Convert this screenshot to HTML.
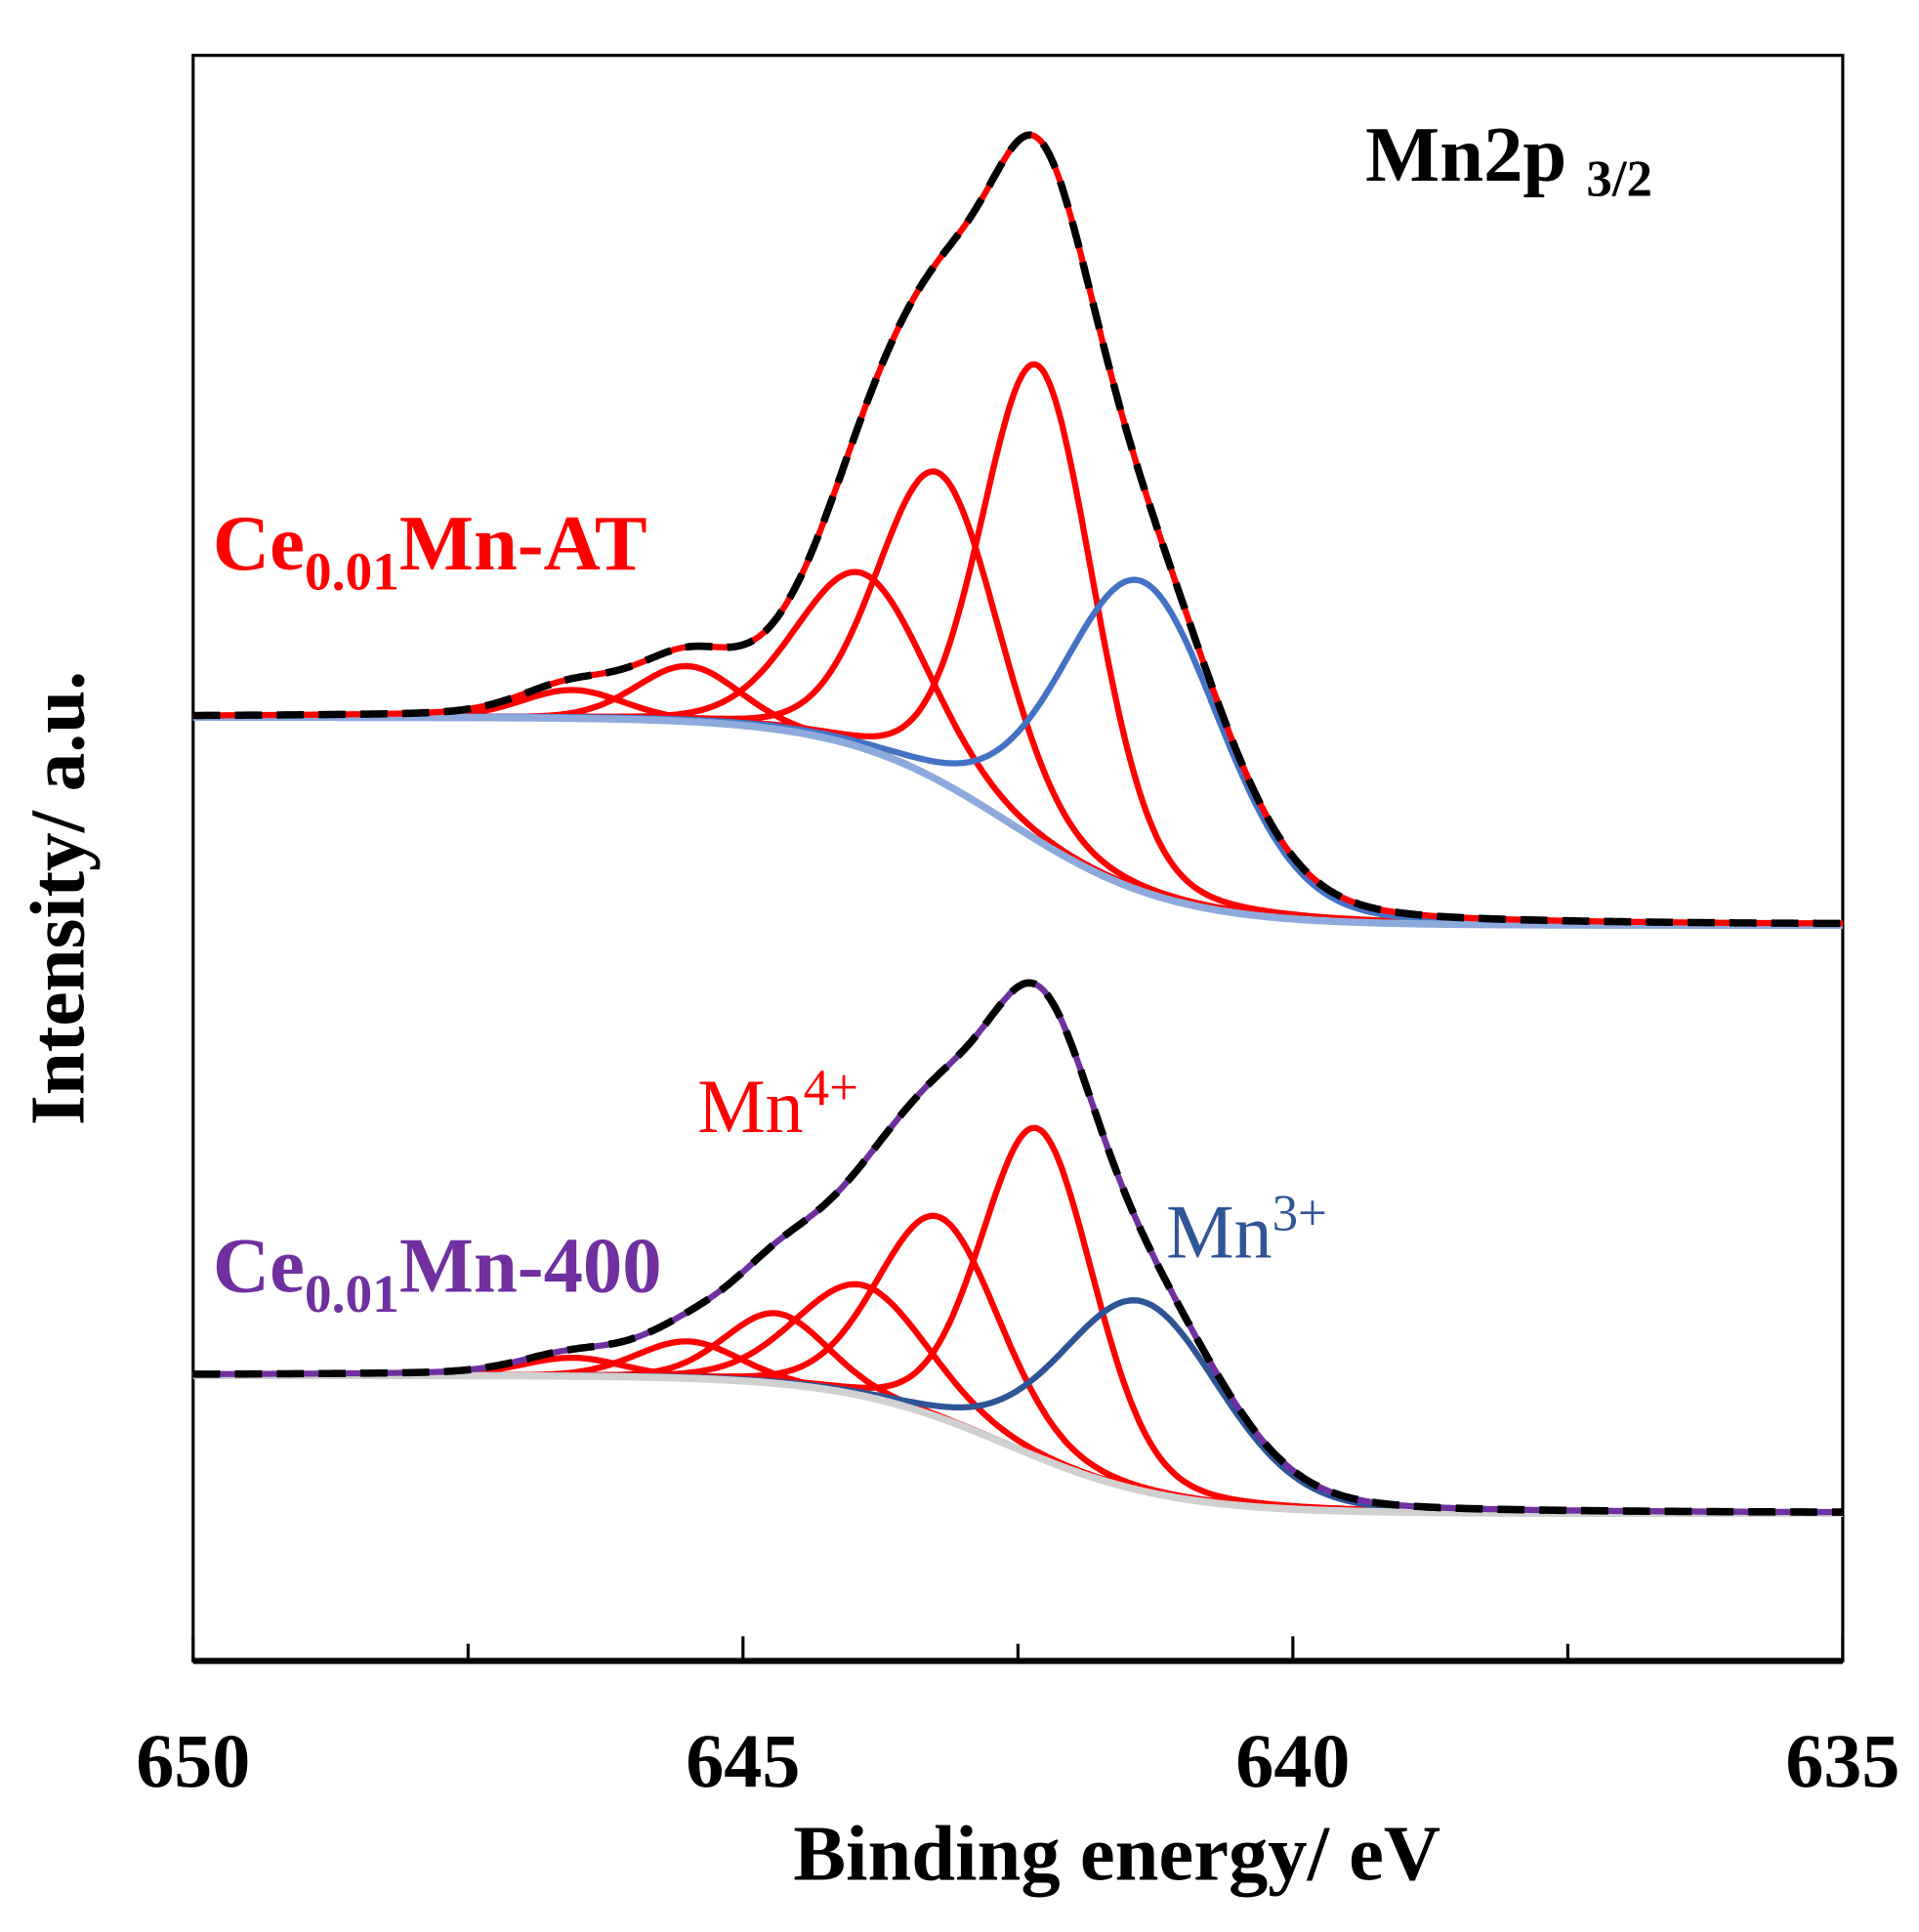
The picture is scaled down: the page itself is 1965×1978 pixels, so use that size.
<!DOCTYPE html>
<html><head><meta charset="utf-8"><style>
html,body{margin:0;padding:0;background:#fff}
svg{display:block}
text{font-family:"Liberation Serif",serif}
</style></head><body>
<svg id="chart" width="1965" height="1978" viewBox="0 0 1560 1570.3" xmlns="http://www.w3.org/2000/svg">
<rect x="157" y="45" width="1341" height="1305" fill="none" stroke="#000" stroke-width="2.5"/>
<line x1="157" y1="1350" x2="1498" y2="1350" stroke="#000" stroke-width="5"/>
<g id="ticks"></g>
<g id="curves"></g>
<text x="1110" y="147" font-size="64" font-weight="bold">Mn2p <tspan font-size="42" dy="12">3/2</tspan></text>
<text x="173" y="463" font-size="64" font-weight="bold" fill="#ff0000">Ce<tspan font-size="44" dy="16">0.01</tspan><tspan dy="-16">Mn-AT</tspan></text>
<text x="173" y="1050" font-size="64" font-weight="bold" fill="#7030a0">Ce<tspan font-size="44" dy="16">0.01</tspan><tspan dy="-16">Mn-400</tspan></text>
<text x="567" y="920" font-size="62" fill="#ff0000">Mn<tspan font-size="42" dy="-22">4+</tspan></text>
<text x="948" y="1022" font-size="62" fill="#2f5597">Mn<tspan font-size="42" dy="-22">3+</tspan></text>
<text x="908" y="1528" font-size="64" font-weight="bold" text-anchor="middle">Binding energy/ eV</text>
<text transform="translate(68,730) rotate(-90)" font-size="63" font-weight="bold" text-anchor="middle">Intensity/ a.u.</text>
<g id="ticklabels"></g>
</svg>
<script>
const tickValues = [650, 645, 640, 635];
const minorTicks = [647.5, 642.5, 637.5];
// upper sample (Ce0.01Mn-AT): peak positions (eV), amplitudes (display units), FWHM (eV)
const atRedCenters = [642.32, 643.22, 643.92, 645.5, 646.55];
const atRedAmps = [386, 250, 142, 45, 23];
const atRedFwhm = [1.2, 1.3, 1.4, 1.1, 1.1];
const atBlue = [641.38, 252, 1.7];
const atBaseline = [583, 752];
// lower sample (Ce0.01Mn-400)
const c4RedCenters = [642.32, 643.22, 643.92, 644.7, 645.5, 646.55];
const c4RedAmps = [267, 163, 90, 57, 30, 15];
const c4RedFwhm = [1.2, 1.3, 1.4, 1.1, 1.1, 1.1];
const c4Blue = [641.38, 154, 1.7];
const c4Baseline = [1118, 1230];

const NS = "http://www.w3.org/2000/svg";
const X = e => 157 + (650 - e) * 89.4;
const step = e => 1 / (1 + Math.exp((e - 642.6) / 0.75));
const peak = (e, c, a, f) => {
  const s = f / 2.3548, h = f / 2;
  const g = Math.exp(-0.5 * ((e - c) / s) ** 2);
  const l = 1 / (1 + ((e - c) / h) ** 2);
  return a * (0.85 * g + 0.15 * l);
};
const curves = document.getElementById('curves');
const tg = document.getElementById('ticks');
const tl = document.getElementById('ticklabels');

tickValues.forEach(v => {
  const l = document.createElementNS(NS, 'line');
  l.setAttribute('x1', X(v)); l.setAttribute('x2', X(v));
  l.setAttribute('y1', 1350); l.setAttribute('y2', 1330);
  l.setAttribute('stroke', '#000'); l.setAttribute('stroke-width', 2.5);
  
  
  tg.appendChild(l);
  const t = document.createElementNS(NS, 'text');
  t.setAttribute('x', X(v)); t.setAttribute('y', 1452);
  t.setAttribute('font-size', 62); t.setAttribute('font-weight', 'bold');
  t.setAttribute('text-anchor', 'middle');
  t.textContent = v;
  
  
  tl.appendChild(t);
});
minorTicks.forEach(v => {
  const l = document.createElementNS(NS, 'line');
  l.setAttribute('x1', X(v)); l.setAttribute('x2', X(v));
  l.setAttribute('y1', 1350); l.setAttribute('y2', 1336);
  l.setAttribute('stroke', '#000'); l.setAttribute('stroke-width', 2.5);
  
  
  tg.appendChild(l);
});

function pathFrom(fn) {
  let d = '';
  for (let e = 650; e >= 635 - 1e-9; e -= 0.02) {
    d += (d ? 'L' : 'M') + X(e).toFixed(1) + ',' + fn(e).toFixed(1);
  }
  return d;
}
function addPath(d, color, w, name, dash) {
  const p = document.createElementNS(NS, 'path');
  p.setAttribute('d', d); p.setAttribute('fill', 'none');
  p.setAttribute('stroke', color); p.setAttribute('stroke-width', w);
  p.setAttribute('stroke-linejoin', 'round');
  if (dash) p.setAttribute('stroke-dasharray', dash);
  
  
  curves.appendChild(p);
}
function drawSample(centers, amps, fwhm, blue, base, baseColor, blueColor, envColor, tag) {
  const bl = e => base[0] + (base[1] - base[0]) * step(e);
  const env = e => {
    let s = peak(e, blue[0], blue[1], blue[2]);
    centers.forEach((c, i) => { s += peak(e, c, amps[i], fwhm[i]); });
    return bl(e) - s;
  };
  centers.forEach((c, i) => {
    addPath(pathFrom(e => bl(e) - peak(e, c, amps[i], fwhm[i])), '#ff0000', 5, tag + '-mn4-peak-' + (i + 1));
  });
  addPath(pathFrom(e => bl(e) - peak(e, blue[0], blue[1], blue[2])), blueColor, 5, tag + '-mn3-peak');
  addPath(pathFrom(bl), baseColor, 6, tag + '-background');
  addPath(pathFrom(env), envColor, 5, tag + '-raw-spectrum');
  addPath(pathFrom(env), '#000', 6, tag + '-fit-envelope', '22 12');
}
drawSample(atRedCenters, atRedAmps, atRedFwhm, atBlue, atBaseline, '#8eaadc', '#4472c4', '#ff0000', 'at');
drawSample(c4RedCenters, c4RedAmps, c4RedFwhm, c4Blue, c4Baseline, '#d0d0d0', '#2f5597', '#7030a0', 'c400');
</script>
</body></html>
